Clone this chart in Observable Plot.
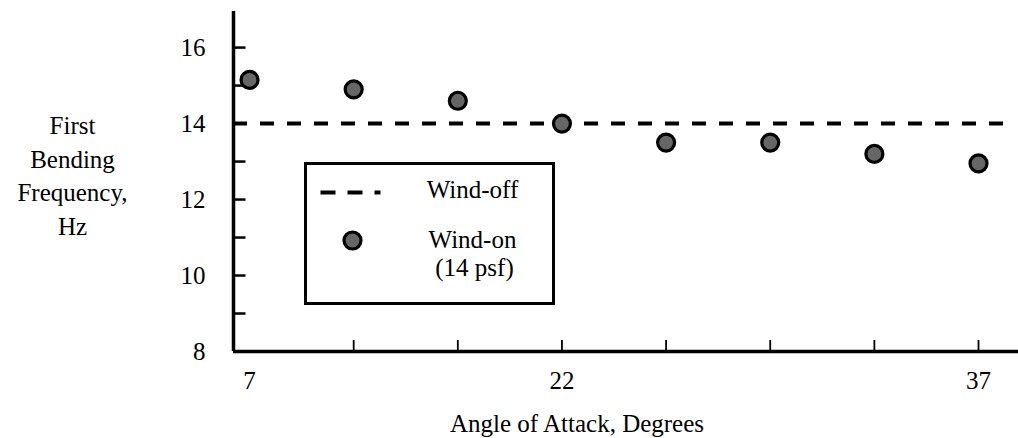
<!DOCTYPE html>
<html><head><meta charset="utf-8">
<script src="https://cdn.jsdelivr.net/npm/d3@7"></script>
<script src="https://cdn.jsdelivr.net/npm/@observablehq/plot@0.6"></script>
<style>body{margin:0;background:#fff;} #chart svg{display:block;}</style>
</head><body><div id="chart"></div>
<script>
// ---- data ----
const angleLabels = ["7", "", "", "22", "", "", "", "37"];   // x categories (only 7, 22, 37 labelled)
const windOnFreq = [15.15, 14.9, 14.6, 14.0, 13.5, 13.5, 13.2, 12.95]; // Hz
const windOffFreq = [14];                                     // Hz
const yTickLabels = [8, 10, 12, 14, 16];
const yMinorTicks = [9, 11, 13, 15];
const yTitle = ["First", "Bending", "Frequency,", "Hz"];
const xTitle = "Angle of Attack, Degrees";
const legendLabels = ["Wind-off", "Wind-on", "(14 psf)"];

// ---- build ----
const points = windOnFreq.map((f, i) => ({i, f}));
const xIdx = angleLabels.map((_, i) => i);
const xDomain = [-0.154, 7.384];
const FONT = "'Liberation Serif', 'Times New Roman', serif";
const dotStyle = {r: 8.5, fill: "#666", stroke: "#000", strokeWidth: 3.2};
const dashSymbol = {draw(ctx) { ctx.moveTo(-30, 0); ctx.lineTo(30, 0); }};

const chart = Plot.plot({
  width: 1018,
  height: 438,
  marginLeft: 233,
  marginRight: 0,
  marginTop: 11,
  marginBottom: 87,
  style: {fontFamily: FONT, fontSize: "25px", color: "#000", background: "#fff", overflow: "visible"},
  x: {type: "linear", domain: xDomain},
  y: {domain: [8, 16.95]},
  marks: [
    // axes lines
    Plot.ruleX([xDomain[0]], {strokeWidth: 3.5}),
    Plot.ruleY([8], {strokeWidth: 3.5}),
    // y ticks (inside)
    Plot.ruleY([...yTickLabels, ...yMinorTicks], {y: d => d, x1: xDomain[0], x2: xDomain[0] + 0.12, strokeWidth: 2.5}),
    // x ticks (inside)
    Plot.ruleX(xIdx.slice(1), {x: d => d, y1: 8, y2: 8.29, strokeWidth: 1.8}),
    Plot.axisY({ticks: yTickLabels, tickSize: 0, tickPadding: 28, label: null, fontSize: 25}),
    Plot.axisX({ticks: xIdx, tickFormat: i => angleLabels[i], tickSize: 0, tickPadding: 20, label: null, fontSize: 25}),
    // wind-off line
    Plot.ruleY(windOffFreq, {y: d => d, strokeWidth: 4, strokeDasharray: "14,13", insetRight: 15}),
    // wind-on points
    Plot.dot(points, {x: "i", y: "f", ...dotStyle}),
    // axis titles
    ...yTitle.map((t, k) => Plot.text([t], {frameAnchor: "top-left", text: d => d, dx: -161, dy: 122.5 + k * 33.5, textAnchor: "middle", lineAnchor: "bottom"})),
    Plot.text([xTitle], {frameAnchor: "bottom", text: d => d, dx: -49, dy: 80, textAnchor: "middle", lineAnchor: "bottom"}),
    // legend
    Plot.frame({stroke: "#000", strokeWidth: 3, fill: "#fff", insetLeft: 72, insetRight: 465, insetTop: 152, insetBottom: 48}),
    Plot.dot([0], {frameAnchor: "top-left", dx: 117, dy: 181, symbol: dashSymbol, fill: "none", stroke: "#000", strokeWidth: 4, strokeDasharray: "15,12"}),
    Plot.dot([0], {frameAnchor: "top-left", dx: 119, dy: 229, ...dotStyle}),
    Plot.text([legendLabels[0]], {frameAnchor: "top-left", text: d => d, dx: 239, dy: 186, textAnchor: "middle", lineAnchor: "bottom"}),
    Plot.text([legendLabels[1]], {frameAnchor: "top-left", text: d => d, dx: 239, dy: 236, textAnchor: "middle", lineAnchor: "bottom"}),
    Plot.text([legendLabels[2]], {frameAnchor: "top-left", text: d => d, dx: 241, dy: 264, textAnchor: "middle", lineAnchor: "bottom"})
  ]
});
document.getElementById("chart").appendChild(chart);
</script>
</body></html>
